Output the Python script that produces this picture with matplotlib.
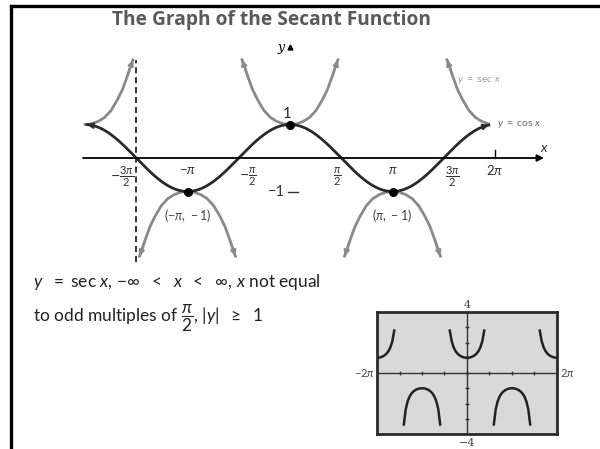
import numpy as np
import matplotlib.pyplot as plt
from matplotlib.lines import Line2D

plt.rcParams['font.family'] = ['Lato', 'DejaVu Sans']
plt.rcParams['mathtext.fontset'] = 'custom'
plt.rcParams['mathtext.rm'] = 'Lato'
plt.rcParams['mathtext.it'] = 'Lato:italic'
plt.rcParams['mathtext.bf'] = 'Lato:bold'

pi = np.pi

# ---- data ----
# cosine curve: y = cos x, drawn between these ends
cos_start, cos_end = -1.98 * pi, 1.94 * pi

# secant branches as drawn in the figure (offset from branch centre, y)
sec_d = np.array([0.0, 0.2, 0.4, 0.6, 0.8, 1.0, 1.15, 1.3, 1.4, 1.47])
sec_y = np.array([1.0, 1.02, 1.09, 1.21, 1.42, 1.75, 2.05, 2.45, 2.75, 2.93])
sec_full_up = [0.0]            # centres of full upward branches
sec_full_down = [-pi, pi]      # centres of full downward branches
sec_half_left = -2 * pi        # half branch, right side only
sec_half_right = 2 * pi        # half branch, left side only
sec_half_right_min = 0.15      # that branch stops just short of 2pi

asymptote = -3 * pi / 2
dots_x = [-pi, 0, pi]
dots_y = [-1, 1, -1]

tick_vals = [-3 * pi / 2, -pi, -pi / 2, pi / 2, pi, 3 * pi / 2, 2 * pi]
tick_labels = [r'$-\frac{3\pi}{2}$', r'$-\pi$', r'$-\frac{\pi}{2}$', r'$\frac{\pi}{2}$',
               r'$\pi$', r'$\frac{3\pi}{2}$', r'$2\pi$']

# calculator window: y = sec x on [-2pi, 2pi] x [-4, 4]
inset_xmin, inset_xmax = -2 * pi, 2 * pi
inset_ymin, inset_ymax = -4, 4
inset_cols = 95

# ---- layout helpers (pixels -> data of main axes) ----
W, H = 600, 449
OX, OY = 290, 158          # pixel position of origin
PX, PY = 102.5 / pi, 33.5  # pixels per unit


def dx(p):
    return (p - OX) / PX


def dy(p):
    return (OY - p) / PY


fig = plt.figure(figsize=(6, 4.49), dpi=100)

# frame (left and top edges)
fig.add_artist(Line2D([11 / W, 11 / W], [1 - 6 / H, 0], transform=fig.transFigure, lw=2.4, color='black'))
fig.add_artist(Line2D([11 / W, 1], [1 - 6 / H, 1 - 6 / H], transform=fig.transFigure, lw=2.4, color='black'))

fig.text(271 / W, 1 - 20 / H, 'The Graph of the Secant Function', ha='center', va='center',
         fontsize=13.8, fontweight='bold', family='Open Sans', color='#5a5a5a')

# ---- main graph ----
ax = fig.add_axes([70 / W, 1 - 270 / H, 490 / W, 240 / H])
ax.set_xlim(dx(70), dx(560))
ax.set_ylim(dy(270), dy(30))
ax.axis('off')

arrow_kw = dict(arrowstyle='-|>', shrinkA=0, shrinkB=0, mutation_scale=8)

# x axis
ax.annotate('', xy=(dx(544), 0), xytext=(dx(83), 0),
            arrowprops=dict(arrowstyle='-|>', shrinkA=0, shrinkB=0, mutation_scale=10, lw=1.3, color='black'))
ax.plot([2 * pi, 2 * pi], [0, 0.24], color='black', lw=1.0)
ax.text(dx(544), dy(148), 'x', fontsize=10, style='italic', ha='center', va='center', color='#333333')

# y axis marks
ax.plot([0], [dy(47)], marker='^', ms=3.5, color='black')
ax.text(dx(281), dy(48), 'y', fontsize=9, style='italic', family='DejaVu Serif', ha='center', va='center')
ax.plot([dx(288), dx(298)], [-1, -1], color='#333333', lw=1.0)
ax.text(dx(285), -1, '−1', fontsize=10.5, ha='right', va='center', color='#333333')
ax.text(dx(287), dy(114), '1', fontsize=10.5, ha='center', va='center', color='#222222')

# asymptote
ax.plot([asymptote, asymptote], [dy(262), dy(60)], color='black', lw=1.1, ls=(0, (4, 2.5)))

# secant branches
sec_col = '#8a8a8a'
for c in sec_full_up + sec_full_down:
    sgn = 1 if c in sec_full_up else -1
    xs = np.concatenate([c - sec_d[::-1], c + sec_d[1:]])
    ys = sgn * np.concatenate([sec_y[::-1], sec_y[1:]])
    ax.plot(xs, ys, color=sec_col, lw=2)
    ax.annotate('', xy=(xs[0], ys[0]), xytext=(xs[2], ys[2]), arrowprops=dict(color=sec_col, lw=1.5, **arrow_kw))
    ax.annotate('', xy=(xs[-1], ys[-1]), xytext=(xs[-3], ys[-3]), arrowprops=dict(color=sec_col, lw=1.5, **arrow_kw))

xs = sec_half_left + sec_d
ax.plot(xs, sec_y, color=sec_col, lw=2)
ax.annotate('', xy=(xs[-1], sec_y[-1]), xytext=(xs[-3], sec_y[-3]), arrowprops=dict(color=sec_col, lw=1.5, **arrow_kw))

keep = sec_d >= sec_half_right_min
xs = sec_half_right - sec_d[keep]
ax.plot(xs, sec_y[keep], color=sec_col, lw=2)
ax.annotate('', xy=(xs[-1], sec_y[keep][-1]), xytext=(xs[-3], sec_y[keep][-3]),
            arrowprops=dict(color=sec_col, lw=1.5, **arrow_kw))

# cosine
xc = np.linspace(cos_start, cos_end, 400)
yc = np.cos(xc)
cos_col = '#2a2a2a'
ax.plot(xc, yc, color=cos_col, lw=2)
ax.annotate('', xy=(xc[0], yc[0]), xytext=(xc[6], yc[6]), arrowprops=dict(color=cos_col, lw=1.5, **arrow_kw))
ax.annotate('', xy=(xc[-1], yc[-1]), xytext=(xc[-7], yc[-7]), arrowprops=dict(color=cos_col, lw=1.5, **arrow_kw))

ax.plot(dots_x, dots_y, 'o', color='black', ms=5.5, zorder=5)

# tick labels (shifted off the curve crossings as in the figure)
label_shift = [-14, 0, 9, -4, 0, 9, 0]
for v, lab, s in zip(tick_vals, tick_labels, label_shift):
    frac = 'frac' in lab
    ax.text(v + s / PX, dy(177) if frac else dy(170), lab, fontsize=11.5 if frac else 9.5,
            ha='center', va='center', color='#333333')

ax.text(-pi, dy(215), r'$(-\pi,\,-1)$', fontsize=9, ha='center', va='center', color='#444444')
ax.text(pi, dy(215), r'$(\pi,\,-1)$', fontsize=9, ha='center', va='center', color='#444444')
ax.text(dx(457), dy(81), r'$y\ =\ \mathrm{sec}\ x$', fontsize=7.5, ha='left', va='center', color='#a0a0a0')
ax.text(dx(497), dy(124), r'$y\ =\ \mathrm{cos}\ x$', fontsize=7.5, ha='left', va='center', color='#666666')

# ---- description ----
fig.text(33 / W, 1 - 282 / H, r'$y\ \ =$ sec $x$, $-\infty\ \ <\ \ x\ \ <\ \ \infty$, $x$ not equal',
         fontsize=12.5, ha='left', va='center', color='#222222')
fig.text(33 / W, 1 - 318 / H, r'to odd multiples of $\dfrac{\pi}{2}$, $|y|\ \ \geq\ \ 1$',
         fontsize=12.5, ha='left', va='center', color='#222222')

# ---- calculator inset ----
ax2 = fig.add_axes([377 / W, 1 - 434 / H, 180 / W, 122 / H])
ax2.set_xlim(inset_xmin, inset_xmax)
ax2.set_ylim(inset_ymin, inset_ymax)
ax2.set_facecolor('#d9d9d9')
ax2.set_xticks([])
ax2.set_yticks([])
for sp in ax2.spines.values():
    sp.set_linewidth(2)
    sp.set_color('#2a2a2a')
ax2.axhline(0, color='#333333', lw=1)
ax2.axvline(0, color='#333333', lw=1)
xt = np.arange(-4, 5) * pi / 2
ax2.plot(xt, np.zeros_like(xt), ls='none', marker='|', ms=3, color='#333333')
yt = np.arange(inset_ymin, inset_ymax + 1)
ax2.plot(np.zeros_like(yt), yt, ls='none', marker='_', ms=3, color='#333333')

xi = np.linspace(inset_xmin, inset_xmax, inset_cols)
yi = 1 / np.cos(xi)
yi[np.abs(yi) > inset_ymax] = np.nan
ax2.plot(xi, yi, color='#222222', lw=1.8)

fig.text(467 / W, 1 - 305 / H, '4', fontsize=8, family='DejaVu Serif', ha='center', va='center', color='#444444')
fig.text(467 / W, 1 - 443 / H, '−4', fontsize=8, family='DejaVu Serif', ha='center', va='center', color='#444444')
fig.text(375 / W, 1 - 373 / H, r'$-2\pi$', fontsize=8, ha='right', va='center', color='#444444')
fig.text(560 / W, 1 - 373 / H, r'$2\pi$', fontsize=8, ha='left', va='center', color='#444444')

fig.savefig('out.png', dpi=100)
